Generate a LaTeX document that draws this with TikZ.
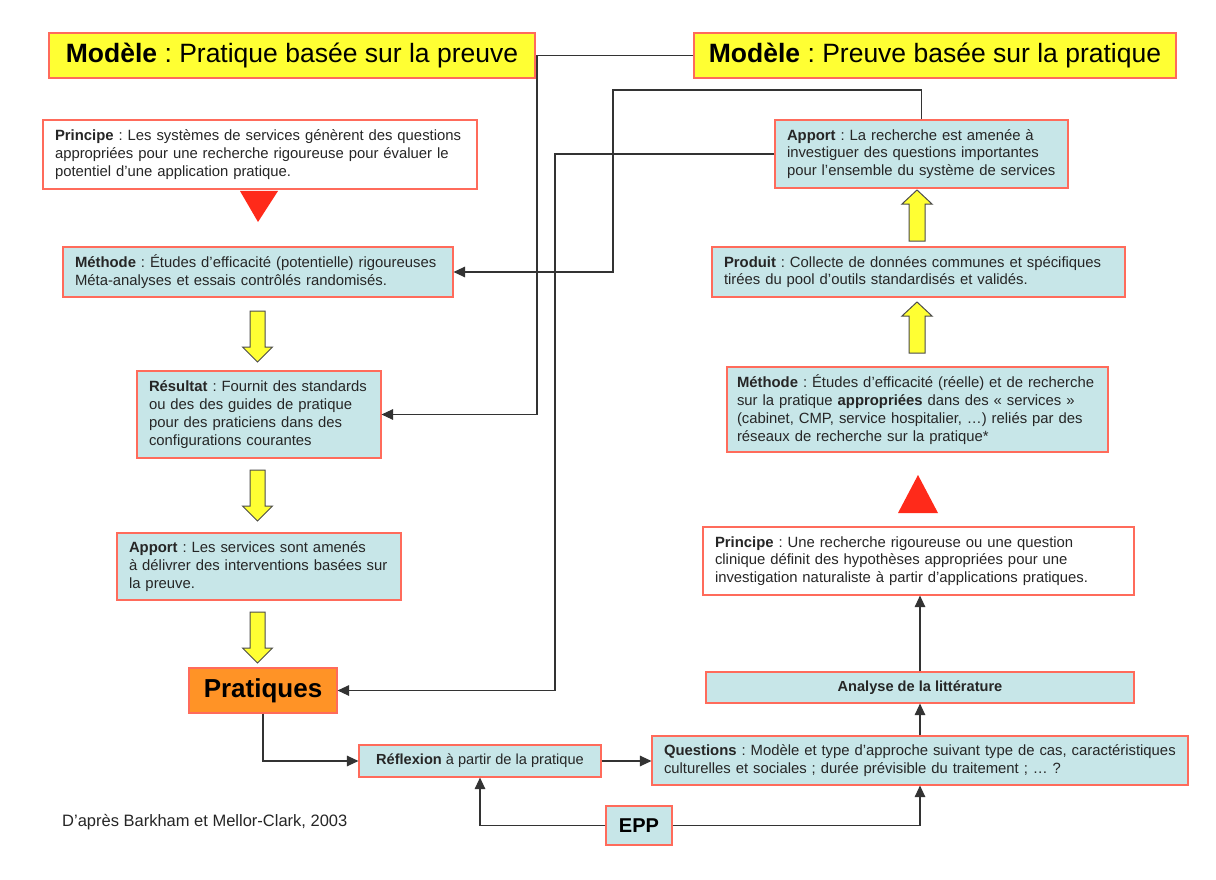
\documentclass[tikz,border=0pt]{standalone}
\usepackage{fontspec}
\setmainfont{Liberation Sans}
\usetikzlibrary{arrows.meta}
\definecolor{bord}{HTML}{FF6B5B}
\definecolor{lblue}{HTML}{C7E6E8}
\definecolor{ylw}{HTML}{FFFF33}
\definecolor{orng}{HTML}{FF9326}
\definecolor{redt}{HTML}{FF2A1A}
\definecolor{lin}{HTML}{333333}
\tikzset{
 bx/.style={draw=bord, line width=1.1pt, inner xsep=12pt, inner ysep=0pt, align=left, font=\frenchspacing\fontsize{14.85}{17.8}\selectfont, text=black!85},
 bbox/.style={bx, fill=lblue},
 wbox/.style={bx, fill=white},
 ttl/.style={draw=bord, line width=1.1pt, fill=ylw, font=\frenchspacing\fontsize{26.5}{30}\selectfont, minimum width=#1, minimum height=45pt, inner sep=0pt},
 conn/.style={draw=lin, line width=1.1pt, -{Triangle[length=11.5pt,width=10.5pt]}},
 yarr/.style={draw=black!70, line width=1pt, fill=ylw},
 redtri/.style={fill=redt},
}
\newcommand\ArrDn[2]{\draw[yarr] (#1-7.5,#2) -- (#1+7.5,#2) -- (#1+7.5,#2+36) -- (#1+15,#2+36) -- (#1,#2+51) -- (#1-15,#2+36) -- (#1-7.5,#2+36) -- cycle;}
\newcommand\ArrUp[2]{\draw[yarr] (#1,#2) -- (#1+15,#2+14) -- (#1+8,#2+14) -- (#1+8,#2+51) -- (#1-8,#2+51) -- (#1-8,#2+14) -- (#1-15,#2+14) -- cycle;}
\begin{document}
\begin{tikzpicture}[x=1pt,y=-1pt]
\useasboundingbox[fill=white] (0,0) rectangle (1216,880);

% titles
\node[ttl=486pt] (tl) at (292,55.5) {\textbf{Modèle} : Pratique basée sur la preuve};
\node[ttl=482pt] (tr) at (935,55.5) {\textbf{Modèle} : Preuve basée sur la pratique};

% left column
\node[wbox, text width=410pt, minimum height=69pt] (pl) at (260,154.5)
 {\textbf{Principe} : Les systèmes de services génèrent des questions\\ appropriées pour une recherche rigoureuse pour évaluer le\\ potentiel d’une application pratique.};
\node[bbox, text width=366pt, minimum height=50pt] (ml) at (258,272)
 {\textbf{Méthode} : Études d’efficacité (potentielle) rigoureuses\\ Méta-analyses et essais contrôlés randomisés.};
\node[bbox, text width=220pt, minimum height=87pt] (rl) at (259,414.5)
 {\textbf{Résultat} : Fournit des standards\\ ou des des guides de pratique\\ pour des praticiens dans des\\ configurations courantes};
\node[bbox, text width=260pt, minimum height=67pt] (al) at (259,566.5)
 {\textbf{Apport} : Les services sont amenés\\ à délivrer des interventions basées sur\\ la preuve.};
\node[draw=bord, line width=1.1pt, fill=orng, minimum width=148pt, minimum height=45pt, inner sep=0pt, font=\bfseries\fontsize{26}{30}\selectfont] (pr) at (263,690.5) {Pratiques};

% bottom
\node[draw=bord, line width=1.1pt, fill=lblue, minimum width=242pt, minimum height=32pt, inner sep=0pt, font=\frenchspacing\fontsize{14.6}{17}\selectfont, text=black!85] (rf) at (480,761) {\textbf{Réflexion} à partir de la pratique};
\node[bbox, text width=512pt, minimum height=49pt] (qu) at (920,760.5)
 {\textbf{Questions} : Modèle et type d’approche suivant type de cas, caractéristiques\\ culturelles et sociales ; durée prévisible du traitement ; … ?};
\node[draw=bord, line width=1.1pt, fill=lblue, minimum width=66pt, minimum height=39pt, inner sep=0pt, font=\bfseries\fontsize{20}{24}\selectfont] (ep) at (639,825.5) {EPP};
\node[draw=bord, line width=1.1pt, fill=lblue, minimum width=428pt, minimum height=31pt, inner sep=0pt, font=\bfseries\fontsize{14.6}{17}\selectfont, text=black!85] (an) at (920,687.5) {Analyse de la littérature};

% right column
\node[wbox, text width=407pt, minimum height=68pt] (prr) at (918.5,561)
 {\textbf{Principe} : Une recherche rigoureuse ou une question\\ clinique définit des hypothèses appropriées pour une\\ investigation naturaliste à partir d’applications pratiques.};
\node[bbox, inner xsep=10pt, text width=361pt, minimum height=85pt] (mr) at (917.5,409.5)
 {\textbf{Méthode} : Études d’efficacité (réelle) et de recherche\\ sur la pratique \textbf{appropriées} dans des « services »\\ (cabinet, CMP, service hospitalier, …) reliés par des\\ réseaux de recherche sur la pratique*};
\node[bbox, text width=389pt, minimum height=50pt] (pd) at (918.5,272)
 {\textbf{Produit} : Collecte de données communes et spécifiques\\ tirées du pool d’outils standardisés et validés.};
\node[bbox, text width=269pt, minimum height=68pt] (ar) at (921.5,154)
 {\textbf{Apport} : La recherche est amenée à\\ investiguer des questions importantes\\ pour l’ensemble du système de services};

% footnote
\node[anchor=west, inner sep=0pt, font=\frenchspacing\fontsize{16.5}{19}\selectfont, text=black!85] (fn) at (62,822) {D'après Barkham et Mellor-Clark, 2003};

% red triangles
\fill[redtri] (240,191) -- (278,191) -- (258,222) -- cycle;
\fill[redtri] (898,513) -- (938,513) -- (918,475) -- cycle;

% yellow arrows
\ArrDn{257.5}{311}
\ArrDn{257.5}{470}
\ArrDn{257.5}{612}
\ArrUp{917}{190}
\ArrUp{917}{302}

% connectors
\coordinate (c1) at (537,414.5);
\coordinate (c2) at (613,90);
\coordinate (c3) at (555,154);
\draw[conn] (tr.west) -| (c1) -- (rl.east);
\draw[conn] (ar.north) |- (c2) |- (ml.east);
\draw[conn] (ar.west) -- (c3) |- (pr.east);
\draw[conn] (pr.south) |- (rf.west);
\draw[conn] (rf.east) -- (rf.east -| qu.west);
\draw[conn] (ep.west) -| (rf.south);
\draw[conn] (ep.east) -| (qu.south);
\draw[conn] (qu.north) -- (an.south);
\draw[conn] (an.north) -- (an.north |- prr.south);
\end{tikzpicture}
\end{document}
